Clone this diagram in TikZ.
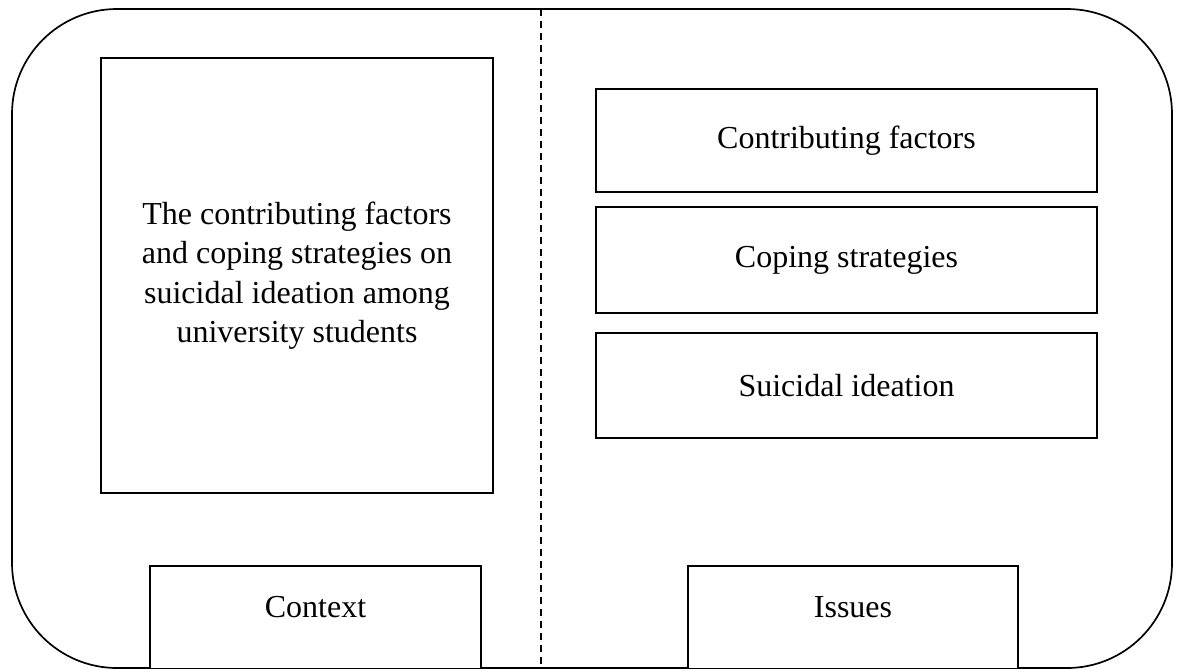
\documentclass[tikz,border=0pt]{standalone}
\usepackage{fontspec}
\setmainfont{Liberation Serif}
\begin{document}
\begin{tikzpicture}[x=1pt,y=-1pt,
  frame/.style={draw=black,line width=1.9pt},
  box/.style={draw=black,line width=1.9pt,inner sep=0pt,align=center,font=\fontsize{32}{39.5}\selectfont},
  lbl/.style={inner sep=0pt,font=\fontsize{32}{39.5}\selectfont},
  divider/.style={draw=black,line width=1.4pt,dash pattern=on 7pt off 5pt}]
\useasboundingbox (0,0) rectangle (1181,670);
% outer frame
\draw[frame,line width=1.7pt,rounded corners=105pt] (12,9) rectangle (1172,668);
% divider
\coordinate (dtop) at (541,9);
\coordinate (dbot) at (541,668);
\draw[divider] (dtop) -- (dbot);
% left big box
\node[box,minimum width=392pt,minimum height=435pt] (main) at (297,275.5)
  {The contributing factors\\and coping strategies on\\suicidal ideation among\\university students};
% right boxes
\node[box,minimum width=501pt,minimum height=103pt] (cf) at (846.5,140.5) {Contributing factors};
\node[box,minimum width=501pt,minimum height=106pt] (cs) at (846.5,260) {Coping strategies};
\node[box,minimum width=501pt,minimum height=105pt] (si) at (846.5,385.5) {Suicidal ideation};
% bottom label boxes
\draw[frame,fill=white] (150,668) |- (481,566) -- (481,668);
\node[lbl] (ctx) at (315.5,607) {Context};
\draw[frame,fill=white] (688,668) |- (1018,566) -- (1018,668);
\node[lbl] (iss) at (853,607) {Issues};
\end{tikzpicture}
\end{document}
